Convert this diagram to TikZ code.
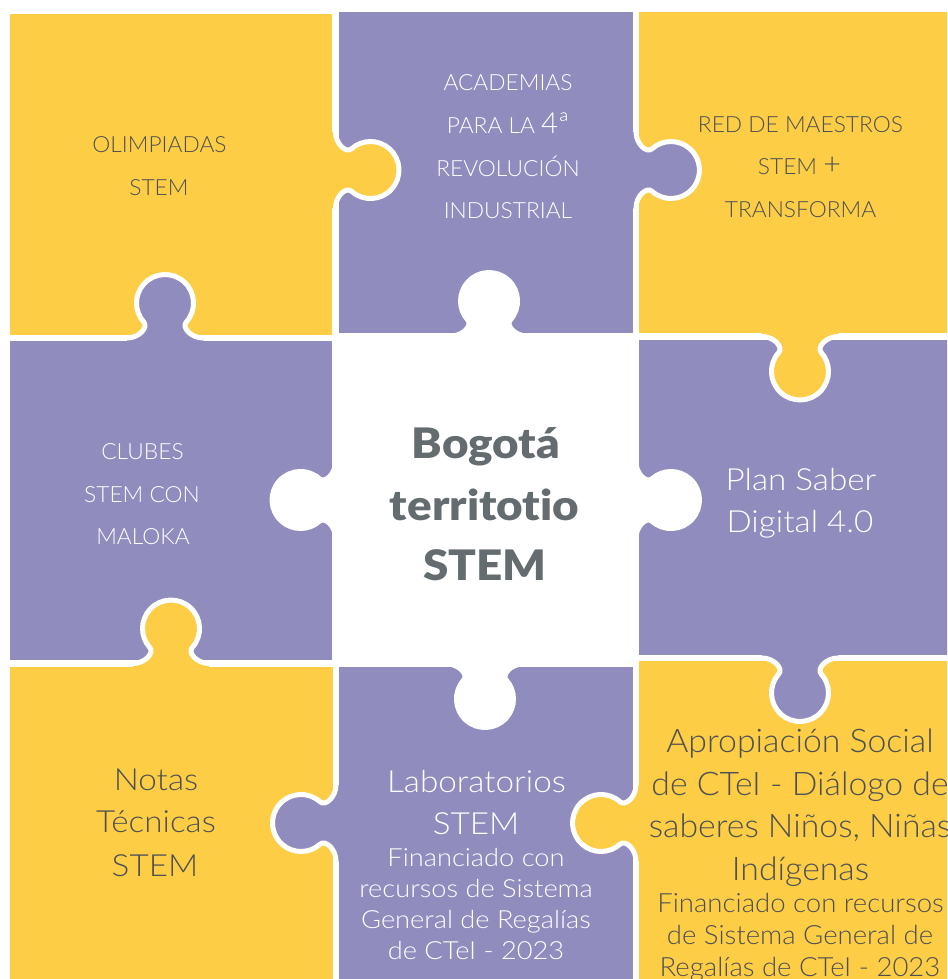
\documentclass[tikz,border=0pt]{standalone}
\usepackage{fontspec}
\setmainfont{Lato}
\IfFontExistsTF{Lato Light}{%
  \newfontfamily\lightfont{Lato Light}[FakeStretch=1.02]%
  \newfontfamily\widefont{Lato Light}[FakeStretch=1.09]%
  \newfontfamily\midfont{Lato Light}[FakeStretch=1.04]}{%
  \newfontfamily\lightfont{Lato}[FakeStretch=1.02]%
  \newfontfamily\widefont{Lato}[FakeStretch=1.09]%
  \newfontfamily\midfont{Lato}[FakeStretch=1.04]}
\IfFontExistsTF{Lato Black}{\newfontfamily\titlefont{Lato Black}[FakeStretch=1.09]}{\newfontfamily\titlefont{Lato}[UprightFont=* Bold,FakeStretch=1.12]}
\definecolor{pyellow}{RGB}{253,205,70}
\definecolor{ppurple}{RGB}{145,140,190}
\definecolor{tdark}{RGB}{77,80,84}
\definecolor{tgray}{RGB}{101,108,112}
\newcommand{\pzltab}[4]{%
  \begin{scope}[shift={(#1,#2)},rotate=#3]
    \fill[#4] (-7,-38) -- (0,-38) .. controls (0,-26) and (10.7,-16.5) .. (15.9,-21.2)
       arc[start angle=228,end angle=492,radius=28.5]
       .. controls (10.7,16.5) and (0,26) .. (0,38) -- (-7,38) -- cycle;
    \draw[white,line width=5pt] (0,-38) .. controls (0,-26) and (10.7,-16.5) .. (15.9,-21.2)
       arc[start angle=228,end angle=492,radius=28.5]
       .. controls (10.7,16.5) and (0,26) .. (0,38);
  \end{scope}}
\tikzset{
  lbl/.style={anchor=base,inner sep=0pt},
  onyel/.style={lbl,text=tdark},
  onpur/.style={lbl,text=white},
  caps/.style={font=\lightfont\fontsize{22.3}{26}\selectfont},
  big/.style={font=\widefont\fontsize{30.5}{34}\selectfont},
  bigger/.style={font=\midfont\fontsize{32.5}{36}\selectfont},
  small/.style={font=\widefont\fontsize{25}{28}\selectfont},
  smalltwo/.style={font=\midfont\fontsize{26.5}{30}\selectfont},
  title/.style={lbl,text=tgray,font=\titlefont\fontsize{42}{46}\selectfont}
}
\begin{document}
\begin{tikzpicture}[x=1pt,y=1pt]
\useasboundingbox (0,0) rectangle (947,-979);
\clip (0,0) rectangle (947,-979);
% pieces
\fill[pyellow] (10,-14) rectangle (332,-335);
\fill[ppurple] (339,-12) rectangle (633,-333);
\fill[pyellow] (639,-12) rectangle (960,-333);
\fill[ppurple] (10,-341) rectangle (332,-660);
\fill[ppurple] (639,-340) rectangle (960,-655);
\fill[pyellow] (10,-667) rectangle (333,-990);
\fill[ppurple] (339,-667) rectangle (633,-990);
\fill[pyellow] (639,-661) rectangle (960,-990);
% tabs
\pzltab{335.5}{-170}{0}{pyellow}
\pzltab{165}{-338}{90}{ppurple}
\pzltab{636}{-170}{0}{ppurple}
\pzltab{800}{-336.5}{-90}{pyellow}
\pzltab{489}{-336}{90}{white}
\pzltab{335.5}{-500}{180}{white}
\pzltab{636}{-500}{0}{white}
\pzltab{485}{-664}{-90}{white}
\pzltab{171}{-663.5}{90}{pyellow}
\pzltab{800}{-658}{-90}{ppurple}
\pzltab{336}{-823}{180}{ppurple}
\pzltab{636}{-823}{180}{pyellow}
% texts
\node[onyel,caps] (o1) at (159.5,-153) {OLIMPIADAS};
\node[onyel,caps] (o2) at (159,-195) {STEM};
\node[onpur,caps] (a1) at (508,-91) {ACADEMIAS};
\node[onpur,caps] (a2) at (508,-133) {PARA LA {\fontsize{29}{29}\selectfont 4ª}};
\node[onpur,caps] (a3) at (508,-176) {REVOLUCIÓN};
\node[onpur,caps] (a4) at (508,-218) {INDUSTRIAL};
\node[onyel,caps] (r1) at (800.5,-132) {RED DE MAESTROS};
\node[onyel,caps] (r2) at (799.5,-174) {STEM {\fontsize{30}{30}\selectfont +}};
\node[onyel,caps] (r3) at (800.5,-217) {TRANSFORMA};
\node[onpur,caps] (c1) at (142.5,-459) {CLUBES};
\node[onpur,caps] (c2) at (142,-502) {STEM CON};
\node[onpur,caps] (c3) at (143,-544) {MALOKA};
\node[title] (b1) at (486,-458) {Bogotá};
\node[title] (b2) at (484.5,-520) {territot\kern0pt io};
\node[title] (b3) at (485,-580) {STEM};
\node[onpur,big] (p1) at (801,-490) {Plan Saber};
\node[onpur,big] (p2) at (800,-532) {Digital 4.0};
\node[onyel,big] (n1) at (156,-790) {Notas};
\node[onyel,big] (n2) at (156,-832) {Técnicas};
\node[onyel,big] (n3) at (155,-876) {STEM};
\node[onpur,big] (l1) at (476.5,-792) {Laboratorios};
\node[onpur,big] (l2) at (476,-834) {STEM};
\node[onpur,small] (l3) at (476,-866) {Financiado con};
\node[onpur,small] (l4) at (476,-897.5) {recursos de Sistema};
\node[onpur,small] (l5) at (476,-928.5) {General de Regalías};
\node[onpur,small] (l6) at (476,-959.5) {de CTeI - 2023};
\node[onyel,bigger] (s1) at (800,-752) {Apropiación Social};
\node[onyel,bigger] (s2) at (800,-795) {de CTeI - Diálogo de};
\node[onyel,bigger] (s3) at (800,-837) {saberes Niños, Niñas};
\node[onyel,bigger] (s4) at (800.5,-880) {Indígenas};
\node[onyel,smalltwo] (s5) at (800.5,-912) {Financiado con recursos};
\node[onyel,smalltwo] (s6) at (800,-944) {de Sistema General de};
\node[onyel,smalltwo] (s7) at (800,-976) {Regalías de CTeI - 2023};
\end{tikzpicture}
\end{document}
